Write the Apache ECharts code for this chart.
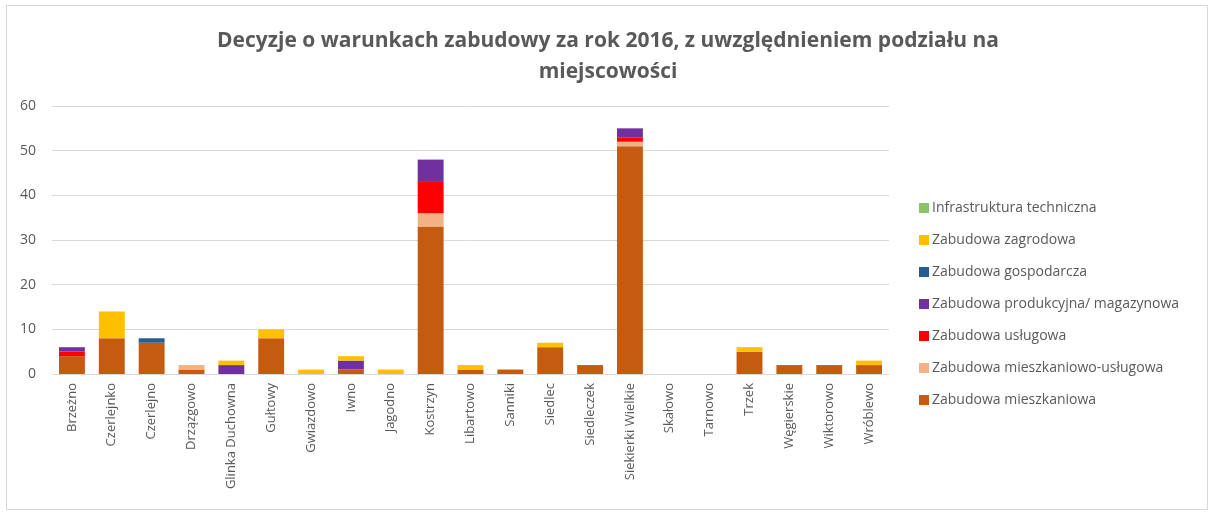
<!DOCTYPE html>
<html>
<head>
<meta charset="utf-8">
<script src="https://cdn.jsdelivr.net/npm/echarts@6/dist/echarts.min.js"></script>
<style>
  html, body { margin: 0; padding: 0; background: #fff; }
  #frame { position: absolute; left: 6px; top: 5px; width: 1200px; height: 503px; border: 1px solid #d9d9d9; }
  #chart { position: absolute; left: 0; top: 0; width: 1214px; height: 515px; }
</style>
</head>
<body>
<div id="frame"></div>
<div id="chart"></div>
<script>
// miejscowości (oś X)
var categories = ['Brzeżno', 'Czerlejnko', 'Czerlejno', 'Drzązgowo', 'Glinka Duchowna', 'Gułtowy',
  'Gwiazdowo', 'Iwno', 'Jagodno', 'Kostrzyn', 'Libartowo', 'Sanniki', 'Siedlec', 'Siedleczek',
  'Siekierki Wielkie', 'Skałowo', 'Tarnowo', 'Trzek', 'Węgierskie', 'Wiktorowo', 'Wróblewo'];

// wartości serii (kolejność stosu od dołu)
var mieszkaniowa        = [4, 8, 7, 1, 0, 8, 0, 1, 0, 33, 1, 1, 6, 2, 51, 0, 0, 5, 2, 2, 2];
var mieszkaniowoUslugowa = [0, 0, 0, 1, 0, 0, 0, 0, 0, 3, 0, 0, 0, 0, 1, 0, 0, 0, 0, 0, 0];
var uslugowa            = [1, 0, 0, 0, 0, 0, 0, 0, 0, 7, 0, 0, 0, 0, 1, 0, 0, 0, 0, 0, 0];
var produkcyjna         = [1, 0, 0, 0, 2, 0, 0, 2, 0, 5, 0, 0, 0, 0, 2, 0, 0, 0, 0, 0, 0];
var gospodarcza         = [0, 0, 1, 0, 0, 0, 0, 0, 0, 0, 0, 0, 0, 0, 0, 0, 0, 0, 0, 0, 0];
var zagrodowa           = [0, 6, 0, 0, 1, 2, 1, 1, 1, 0, 1, 0, 1, 0, 0, 0, 0, 1, 0, 0, 1];
var infrastruktura      = [0, 0, 0, 0, 0, 0, 0, 0, 0, 0, 0, 0, 0, 0, 0, 0, 0, 0, 0, 0, 0];

var yTicks = [0, 10, 20, 30, 40, 50, 60];

var seriesDefs = [
  { name: 'Zabudowa mieszkaniowa', data: mieszkaniowa, color: '#C55A11' },
  { name: 'Zabudowa mieszkaniowo-usługowa', data: mieszkaniowoUslugowa, color: '#F4B183' },
  { name: 'Zabudowa usługowa', data: uslugowa, color: '#FF0000' },
  { name: 'Zabudowa produkcyjna/ magazynowa', data: produkcyjna, color: '#7030A0' },
  { name: 'Zabudowa gospodarcza', data: gospodarcza, color: '#255E91' },
  { name: 'Zabudowa zagrodowa', data: zagrodowa, color: '#FFC000' },
  { name: 'Infrastruktura techniczna', data: infrastruktura, color: '#8BC26A' }
];

var font = 'Open Sans';
var textColor = '#595959';

var series = seriesDefs.map(function (s) {
  return {
    name: s.name,
    type: 'bar',
    stack: 'total',
    barCategoryGap: '35%',
    data: s.data,
    itemStyle: { color: s.color }
  };
});

var option = {
  animation: false,
  title: {
    text: 'Decyzje o warunkach zabudowy za rok 2016, z uwzględnieniem podziału na\nmiejscowości',
    left: 603,
    textAlign: 'center',
    top: 21,
    textStyle: { color: textColor, fontFamily: font, fontSize: 21, fontWeight: 'bold', lineHeight: 31 }
  },
  legend: {
    orient: 'vertical',
    left: 914,
    top: 196,
    itemWidth: 10,
    itemHeight: 10,
    itemGap: 18,
    icon: 'rect',
    // kolejność odwrócona jak w Excelu
    data: seriesDefs.slice().reverse().map(function (s) { return s.name; }),
    textStyle: { color: textColor, fontFamily: font, fontSize: 14, padding: [0, 0, 0, -2] }
  },
  grid: { left: 52, right: 325, top: 106, bottom: 141, containLabel: false },
  xAxis: {
    type: 'category',
    data: categories,
    axisLine: { lineStyle: { color: '#d9d9d9' } },
    axisTick: { show: false },
    axisLabel: { rotate: 90, color: textColor, fontFamily: font, fontSize: 13, interval: 0, margin: 9 }
  },
  yAxis: {
    type: 'value',
    min: yTicks[0],
    max: yTicks[yTicks.length - 1],
    interval: 10,
    axisLine: { show: false },
    axisTick: { show: false },
    splitLine: { lineStyle: { color: '#d9d9d9' } },
    axisLabel: { color: textColor, fontFamily: font, fontSize: 14, margin: 16 }
  },
  series: series
};

var chart = echarts.init(document.getElementById('chart'));
chart.setOption(option);
</script>
</body>
</html>
